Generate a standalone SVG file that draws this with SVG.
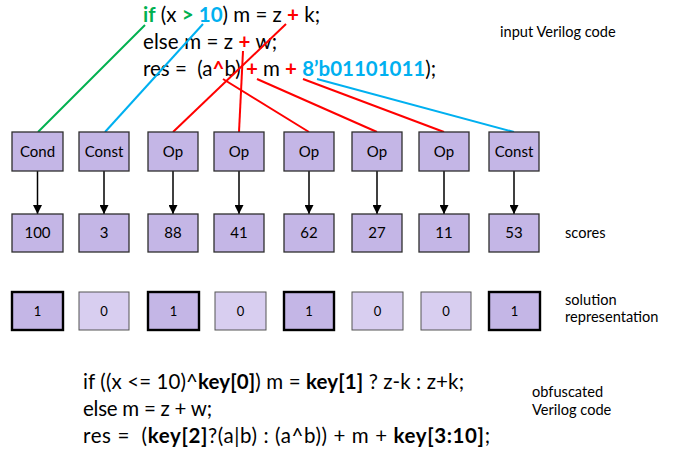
<svg xmlns="http://www.w3.org/2000/svg" width="694" height="452" viewBox="0 0 694 452">
  <defs>
    <style>
      text { font-family: Lato, "Liberation Sans", sans-serif; fill: #000; }
      .code { font-size: 20.5px; }
      .lbl { font-size: 14.6px; }
      .node rect { fill: #c4b6e6; stroke: #2f2f2f; stroke-width: 1.3; }
      .node text { font-size: 15px; text-anchor: middle; }
      .sol1 rect { fill: #c4b6e6; stroke: #000; stroke-width: 2.4; }
      .sol0 rect { fill: #d8cef0; stroke: #555; stroke-width: 1; }
      .sol1 text, .sol0 text { font-size: 13px; text-anchor: middle; }
      .b { font-weight: bold; }
      .g { fill: #00b050; font-weight: bold; }
      .c { fill: #00b0f0; font-weight: bold; }
      .r { fill: #ff0000; font-weight: bold; }
      .ln { fill: none; stroke-width: 2; }
      .arr { stroke: #000; stroke-width: 1.5; marker-end: url(#head); }
    </style>
    <marker id="head" markerWidth="9" markerHeight="9" refX="9" refY="4.5" orient="auto" markerUnits="userSpaceOnUse">
      <path d="M0,0 L9,4.5 L0,9 Z" fill="#000"/>
    </marker>
  </defs>

  <!-- input code -->
  <g id="input-code" class="code">
    <text x="143" y="22" textLength="177" lengthAdjust="spacing"><tspan class="g">if</tspan> (x <tspan class="g">&gt;</tspan> <tspan class="c">10</tspan>) m = z <tspan class="r">+</tspan> k;</text>
    <text x="143" y="49" textLength="134" lengthAdjust="spacing">else m = z <tspan class="r">+</tspan> w;</text>
    <text x="143" y="76" textLength="293" lengthAdjust="spacing" xml:space="preserve">res =  (a<tspan class="r">^</tspan>b) <tspan class="r">+</tspan> m <tspan class="r">+</tspan> <tspan class="c">8’b01101011</tspan>);</text>
  </g>
  <text id="input-label" class="lbl" x="500" y="37">input Verilog code</text>

  <!-- connectors from code tokens to nodes -->
  <g id="connectors">
    <line class="ln" stroke="#00b050" x1="145" y1="25" x2="38" y2="132"/>
    <line class="ln" stroke="#00b0f0" x1="203" y1="24" x2="105" y2="132"/>
    <line class="ln" stroke="#ff0000" x1="286" y1="24" x2="173" y2="132"/>
    <line class="ln" stroke="#ff0000" x1="243" y1="51" x2="239" y2="132"/>
    <line class="ln" stroke="#ff0000" x1="223" y1="79" x2="309" y2="132"/>
    <line class="ln" stroke="#ff0000" x1="257" y1="79" x2="377" y2="132"/>
    <line class="ln" stroke="#ff0000" x1="303" y1="79" x2="444" y2="132"/>
    <line class="ln" stroke="#00b0f0" x1="317" y1="79" x2="514" y2="132"/>
    <line class="arr" x1="37.5" y1="171" x2="37.5" y2="214"/>
    <line class="arr" x1="104" y1="171" x2="104" y2="214"/>
    <line class="arr" x1="173" y1="171" x2="173" y2="214"/>
    <line class="arr" x1="239" y1="171" x2="239" y2="214"/>
    <line class="arr" x1="309" y1="171" x2="309" y2="214"/>
    <line class="arr" x1="377" y1="171" x2="377" y2="214"/>
    <line class="arr" x1="444" y1="171" x2="444" y2="214"/>
    <line class="arr" x1="514" y1="171" x2="514" y2="214"/>
  </g>

  <!-- token nodes -->
  <g id="t1" class="node"><rect x="12" y="132" width="51" height="39"/><text x="37.5" y="157">Cond</text></g>
  <g id="t2" class="node"><rect x="79" y="132" width="50" height="39"/><text x="104" y="157">Const</text></g>
  <g id="t3" class="node"><rect x="148" y="132" width="50" height="39"/><text x="173" y="157">Op</text></g>
  <g id="t4" class="node"><rect x="214" y="132" width="50" height="39"/><text x="239" y="157">Op</text></g>
  <g id="t5" class="node"><rect x="284" y="132" width="50" height="39"/><text x="309" y="157">Op</text></g>
  <g id="t6" class="node"><rect x="352" y="132" width="50" height="39"/><text x="377" y="157">Op</text></g>
  <g id="t7" class="node"><rect x="419" y="132" width="50" height="39"/><text x="444" y="157">Op</text></g>
  <g id="t8" class="node"><rect x="489" y="132" width="50" height="39"/><text x="514" y="157">Const</text></g>

  <!-- score nodes -->
  <g id="s1" class="node"><rect x="12" y="214" width="51" height="38"/><text x="37.5" y="238">100</text></g>
  <g id="s2" class="node"><rect x="79" y="214" width="50" height="38"/><text x="104" y="238">3</text></g>
  <g id="s3" class="node"><rect x="148" y="214" width="50" height="38"/><text x="173" y="238">88</text></g>
  <g id="s4" class="node"><rect x="214" y="214" width="50" height="38"/><text x="239" y="238">41</text></g>
  <g id="s5" class="node"><rect x="284" y="214" width="50" height="38"/><text x="309" y="238">62</text></g>
  <g id="s6" class="node"><rect x="352" y="214" width="50" height="38"/><text x="377" y="238">27</text></g>
  <g id="s7" class="node"><rect x="419" y="214" width="50" height="38"/><text x="444" y="238">11</text></g>
  <g id="s8" class="node"><rect x="489" y="214" width="50" height="38"/><text x="514" y="238">53</text></g>
  <text id="scores-label" class="lbl" x="565" y="238">scores</text>

  <!-- solution bits -->
  <g id="b1" class="sol1"><rect x="12" y="292" width="51" height="38"/><text x="37.5" y="316">1</text></g>
  <g id="b2" class="sol0"><rect x="79" y="292" width="50" height="38"/><text x="104" y="316">0</text></g>
  <g id="b3" class="sol1"><rect x="148" y="292" width="51" height="38"/><text x="173.5" y="316">1</text></g>
  <g id="b4" class="sol0"><rect x="215" y="292" width="51" height="38"/><text x="240.5" y="316">0</text></g>
  <g id="b5" class="sol1"><rect x="284" y="292" width="50" height="38"/><text x="309" y="316">1</text></g>
  <g id="b6" class="sol0"><rect x="352" y="292" width="51" height="38"/><text x="377.5" y="316">0</text></g>
  <g id="b7" class="sol0"><rect x="421" y="292" width="50" height="38"/><text x="446" y="316">0</text></g>
  <g id="b8" class="sol1"><rect x="489" y="292" width="51" height="38"/><text x="514.5" y="316">1</text></g>
  <text id="solution-label" class="lbl" x="565" y="305">solution<tspan x="565" y="322">representation</tspan></text>

  <!-- obfuscated code -->
  <g id="obf-code" class="code">
    <text x="83" y="389" textLength="381" lengthAdjust="spacing">if ((x &lt;= 10)^<tspan class="b">key[0]</tspan>) m = <tspan class="b">key[1]</tspan> ? z-k : z+k;</text>
    <text x="83" y="416" textLength="129" lengthAdjust="spacing">else m = z + w;</text>
    <text x="83" y="443" textLength="407" lengthAdjust="spacing" xml:space="preserve">res =  (<tspan class="b">key[2]</tspan>?(a|b) : (a^b)) + m + <tspan class="b">key[3:10]</tspan>;</text>
  </g>
  <text id="obf-label" class="lbl" x="532" y="397">obfuscated<tspan x="532" y="415">Verilog code</tspan></text>
</svg>
